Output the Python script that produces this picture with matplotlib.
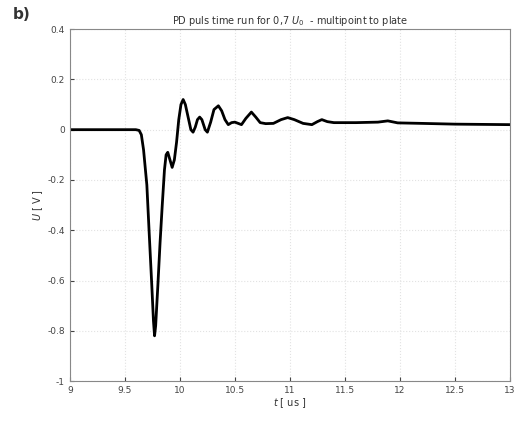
import matplotlib
matplotlib.use("Agg")
import matplotlib.pyplot as plt

# PD pulse: time in us, voltage in V
t_us = [9.0, 9.3, 9.6, 9.63, 9.65, 9.67, 9.70, 9.72, 9.745, 9.76, 9.77, 9.78,
        9.80, 9.82, 9.84, 9.86, 9.875, 9.89, 9.91, 9.93, 9.95, 9.97, 9.99,
        10.01, 10.03, 10.05, 10.08, 10.10, 10.12, 10.14, 10.16, 10.18, 10.20,
        10.23, 10.25, 10.28, 10.31, 10.35, 10.38, 10.41, 10.44, 10.47, 10.5,
        10.53, 10.56, 10.60, 10.65, 10.69, 10.73, 10.78, 10.85, 10.92, 10.98,
        11.04, 11.12, 11.2, 11.25, 11.29, 11.34, 11.4, 11.6, 11.8, 11.89,
        11.98, 12.2, 12.5, 13.0]
u_v = [0.0, 0.0, 0.0, -0.003, -0.02, -0.08, -0.22, -0.4, -0.62, -0.76, -0.82,
       -0.78, -0.62, -0.45, -0.3, -0.16, -0.1, -0.09, -0.12, -0.15, -0.12,
       -0.05, 0.04, 0.10, 0.12, 0.10, 0.04, 0.0, -0.01, 0.01, 0.04, 0.05, 0.04,
       0.0, -0.01, 0.03, 0.08, 0.095, 0.075, 0.04, 0.02, 0.028, 0.03, 0.025,
       0.02, 0.045, 0.07, 0.05, 0.028, 0.024, 0.025, 0.04, 0.048, 0.04, 0.025,
       0.02, 0.032, 0.04, 0.032, 0.028, 0.028, 0.03, 0.035, 0.027, 0.025,
       0.022, 0.02]

xticks = [9, 9.5, 10, 10.5, 11, 11.5, 12, 12.5, 13]
xticklabels = ["9", "9.5", "10", "10.5", "11", "11.5", "12", "12.5", "13"]
yticks = [-1, -0.8, -0.6, -0.4, -0.2, 0, 0.2, 0.4]
yticklabels = ["-1", "-0.8", "-0.6", "-0.4", "-0.2", "0", "0.2", "0.4"]

fig = plt.figure(figsize=(5.29, 4.22), dpi=100)
ax = fig.add_axes([0.132, 0.097, 0.832, 0.834])

ax.plot(t_us, u_v, color="black", linewidth=2.0, solid_joinstyle="round")

ax.set_xlim(9, 13)
ax.set_ylim(-1, 0.4)
ax.set_xticks(xticks)
ax.set_xticklabels(xticklabels)
ax.set_yticks(yticks)
ax.set_yticklabels(yticklabels)
ax.tick_params(direction="in", labelsize=6.5, colors="#444444", length=3)
ax.grid(True, color="#e2e2e2", linestyle=":", linewidth=0.8)
for sp in ax.spines.values():
    sp.set_color("#888888")
    sp.set_linewidth(0.8)

ax.set_title("PD puls time run for 0,7 $U_0$  - multipoint to plate",
             fontsize=7, color="#333333", pad=4)
ax.set_xlabel("$t$ [ us ]", fontsize=7, color="#333333", labelpad=1)
ax.set_ylabel("$U$ [ V ]", fontsize=7, color="#333333", labelpad=2)

fig.text(0.025, 0.955, "b)", fontsize=11, fontweight="bold", color="#333333")

fig.savefig("out.png", dpi=100)
